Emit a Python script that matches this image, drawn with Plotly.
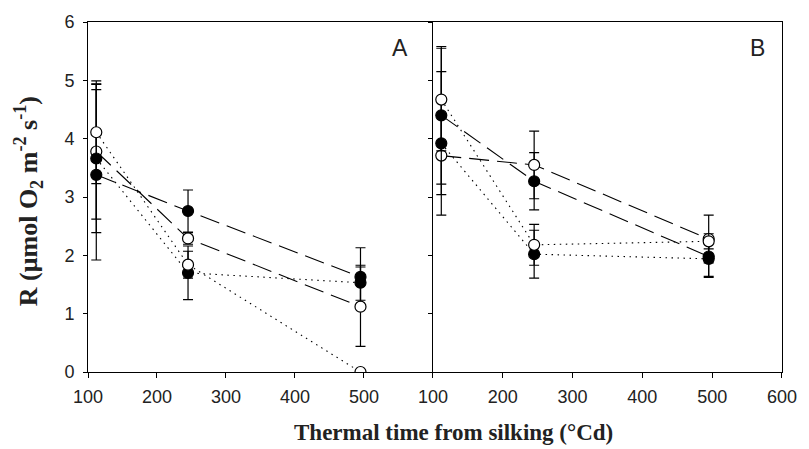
import plotly.graph_objects as go

# ---------------- data ----------------
x_days = [112, 245, 495]

# Panel A
a_filled_dash = [3.38, 2.76, 1.63]
a_filled_dash_err = [1.46, 0.36, 0.50]
a_open_dash = [3.78, 2.29, 1.12]
a_open_dash_err = [1.16, 0.10, 0.68]
a_filled_dot = [3.66, 1.70, 1.53]
a_filled_dot_err = [1.27, 0.46, 0.30]
a_open_dot = [4.11, 1.84, 0.0]
a_open_dot_err = [0.88, 0.23, 0.0]

# Panel B
b_filled_dash = [4.40, 3.27, 1.98]
b_filled_dash_err = [1.18, 0.49, 0.34]
b_open_dash = [3.71, 3.55, 2.28]
b_open_dash_err = [0.67, 0.58, 0.41]
b_filled_dot = [3.92, 2.02, 1.94]
b_filled_dot_err = [1.23, 0.41, 0.32]
b_open_dot = [4.67, 2.18, 2.24]
b_open_dot_err = [0.88, 0.35, 0.13]

x_ticks_a = [100, 200, 300, 400, 500]
x_ticks_b = [100, 200, 300, 400, 500, 600]
y_ticks = [0, 1, 2, 3, 4, 5, 6]

DASH = "20px,8px"
DOT = "1.5px,4.5px"

fig = go.Figure()


def add(xax, yax, y, err, filled, dash):
    fig.add_trace(go.Scatter(
        x=x_days, y=y, xaxis=xax, yaxis=yax,
        mode="lines+markers",
        line=dict(color="black", width=1.1, dash=dash),
        marker=dict(size=11, color="black" if filled else "white",
                    line=dict(color="black", width=1.2)),
        error_y=dict(type="data", array=err, visible=True,
                     color="black", thickness=1.2, width=5),
        showlegend=False,
    ))


add("x", "y", a_filled_dash, a_filled_dash_err, True, DASH)
add("x", "y", a_open_dash, a_open_dash_err, False, DASH)
add("x", "y", a_filled_dot, a_filled_dot_err, True, DOT)
add("x", "y", a_open_dot, a_open_dot_err, False, DOT)

add("x2", "y2", b_filled_dash, b_filled_dash_err, True, DASH)
add("x2", "y2", b_open_dash, b_open_dash_err, False, DASH)
add("x2", "y2", b_filled_dot, b_filled_dot_err, True, DOT)
add("x2", "y2", b_open_dot, b_open_dot_err, False, DOT)

tickfont = dict(family="Liberation Sans, Arial", size=18, color="#222")
split = 0.497

common_x = dict(range=[100, 600], showline=True, linecolor="black", linewidth=1,
                mirror=True, ticks="outside", ticklen=5, tickcolor="black",
                showgrid=False, zeroline=False, tickfont=tickfont,
                ticklabelstandoff=3)

fig.update_layout(
    width=809, height=449,
    margin=dict(l=88, r=16, t=17, b=77),
    paper_bgcolor="white", plot_bgcolor="white",
    xaxis=dict(domain=[0, split], tickvals=x_ticks_a, anchor="y", **common_x),
    xaxis2=dict(domain=[split, 1], tickvals=x_ticks_b, anchor="y2", **common_x),
    yaxis=dict(range=[0, 6], tickvals=y_ticks, anchor="x", showline=True,
               linecolor="black", linewidth=1, mirror=False, ticks="outside",
               ticklen=4, tickcolor="black", showgrid=False, zeroline=False,
               tickfont=tickfont, ticklabelstandoff=5),
    yaxis2=dict(range=[0, 6], tickvals=y_ticks, anchor="x2", matches="y",
                showline=True, linecolor="black", linewidth=1.2, mirror=True,
                ticks="outside", ticklen=4, tickcolor="black", showgrid=False,
                zeroline=False, showticklabels=False),
    annotations=[
        dict(text="A", xref="x domain", yref="y domain", x=0.905, y=0.925,
             xanchor="center", yanchor="middle", showarrow=False,
             font=dict(family="Liberation Sans, Arial", size=23, color="#222")),
        dict(text="B", xref="x2 domain", yref="y2 domain", x=0.93, y=0.925,
             xanchor="center", yanchor="middle", showarrow=False,
             font=dict(family="Liberation Sans, Arial", size=23, color="#222")),
        dict(text="<b>R (μmol O<sub>2</sub> m<sup>-2</sup> s<sup>-1</sup>)</b>",
             xref="paper", yref="paper", x=-0.086, y=0.489, textangle=-90,
             xanchor="center", yanchor="middle", showarrow=False,
             font=dict(family="Liberation Serif, Times New Roman", size=26,
                       color="#222")),
        dict(text="<b>Thermal time from silking (°Cd)</b>",
             xref="paper", yref="paper", x=0.527, y=-0.173,
             xanchor="center", yanchor="middle", showarrow=False,
             font=dict(family="Liberation Serif, Times New Roman", size=23,
                       color="#222")),
    ],
)

fig.write_html("out.html", config={"displayModeBar": False},
               post_script="document.body.style.margin='0px';")
